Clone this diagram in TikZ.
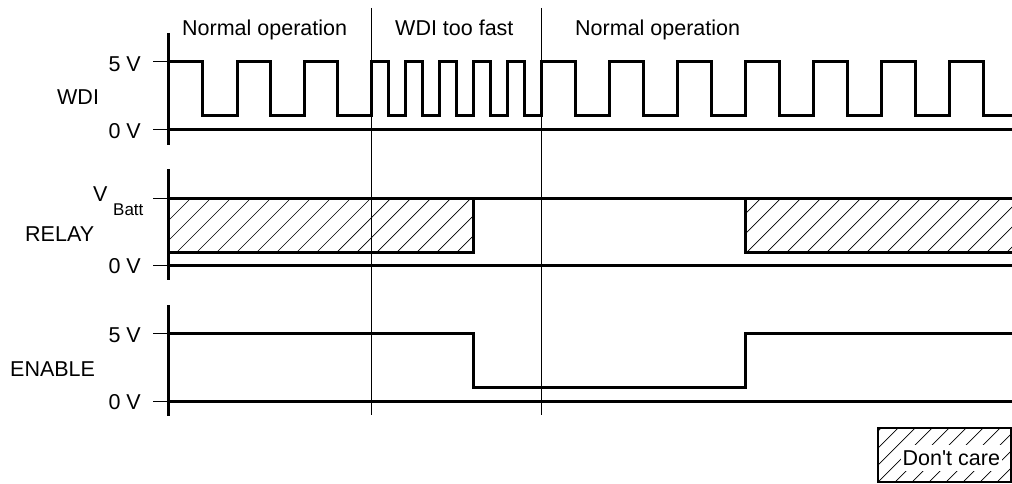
\documentclass[tikz,border=0pt]{standalone}
\usepackage{fontspec}
\setmainfont{Liberation Sans}[Ligatures=TeXOff]
\newcommand{\bigtxt}{\fontsize{21.5pt}{24pt}\selectfont}
\newcommand{\subtxt}{\fontsize{17pt}{20pt}\selectfont}
\begin{document}
\begin{tikzpicture}[x=1pt,y=-1pt,
  sig/.style={line width=3pt},
  axisline/.style={line width=3pt},
  thinline/.style={line width=1pt},
  hatchline/.style={line width=0.7pt},
  lbl/.style={font=\bigtxt, inner sep=0pt},
  sublbl/.style={font=\subtxt, inner sep=0pt}]
\useasboundingbox (0,0) rectangle (1012,484);

% hatching (don't care regions)
\begin{scope}
  \clip (168,198) rectangle (473,252);
  \foreach \c in {117,137,...,477} \draw[hatchline] (\c,252) -- (\c+54,198);
\end{scope}
\begin{scope}
  \clip (745,198) rectangle (1012,252);
  \foreach \c in {707,727,...,1012} \draw[hatchline] (\c,252) -- (\c+54,198);
\end{scope}
\begin{scope}
  \clip (878,428) rectangle (1011,482);
  \foreach \c in {827,844,...,1011} \draw[hatchline] (\c,482) -- (\c+54,428);
\end{scope}

% dividers
\draw[thinline] (371,8) -- (371,415);
\draw[thinline] (541,8) -- (541,415);

% phase labels
\node[lbl, anchor=base west] (n1) at (182,35.5) {Normal operation};
\node[lbl, anchor=base west] (n2) at (395,35.5) {WDI too fast};
\node[lbl, anchor=base west] (n3) at (575,35.5) {Normal operation};

% ---------- WDI ----------
\draw[axisline] (168,33) -- (168,145);
\draw[axisline] (168,130) -- (1012,130);
\draw[thinline] (153,62) -- (168,62);
\draw[thinline] (153,130) -- (168,130);
\node[lbl, anchor=base east] (w5) at (141,71.5) {5 V};
\node[lbl, anchor=base west] (wl) at (57,105) {WDI};
\node[lbl, anchor=base east] (w0) at (141,138.5) {0 V};
\draw[sig] (168,62) -| (202,116) -| (237,62) -| (270,116) -| (304,62) -| (337,116)
  -| (371,62) -| (388,116) -| (405,62) -| (422,116) -| (439,62) -| (456,116)
  -| (473,62) -| (490,116) -| (507,62) -| (524,116) -| (541,62) -| (575,116)
  -| (609,62) -| (643,116) -| (677,62) -| (711,116) -| (745,62) -| (779,116)
  -| (813,62) -| (847,116) -| (881,62) -| (915,116) -| (949,62) -| (983,116)
  -- (1012,116);

% ---------- RELAY ----------
\draw[axisline] (168,169) -- (168,280);
\draw[axisline] (168,265) -- (1012,265);
\draw[thinline] (153,198) -- (168,198);
\draw[thinline] (153,265) -- (168,265);
\node[lbl, anchor=base west] (rv) at (93,201.5) {V};
\node[sublbl, anchor=base west] (rb) at (113,215) {Batt};
\node[lbl, anchor=base west] (rl) at (25,241.5) {RELAY};
\node[lbl, anchor=base east] (r0) at (141,273) {0 V};
\draw[sig] (168,198) -- (1012,198);
\draw[sig] (168,252) -| (473,198);
\draw[sig] (1012,252) -| (745,198);

% ---------- ENABLE ----------
\draw[axisline] (168,305) -- (168,416);
\draw[axisline] (168,401) -- (1012,401);
\draw[thinline] (153,333) -- (168,333);
\draw[thinline] (153,401) -- (168,401);
\node[lbl, anchor=base east] (e5) at (141,342.5) {5 V};
\node[lbl, anchor=base west] (el) at (10,376.5) {ENABLE};
\node[lbl, anchor=base east] (e0) at (141,409) {0 V};
\draw[sig] (168,333) -| (473,387) -| (745,333) -- (1012,333);

% ---------- legend ----------
\node[lbl, fill=white, inner xsep=1.5pt, inner ysep=5.5pt, anchor=base west] (dc) at (901,465) {Don't care};
\draw[line width=1.5pt] (878,428) rectangle (1011,482);
\end{tikzpicture}
\end{document}
